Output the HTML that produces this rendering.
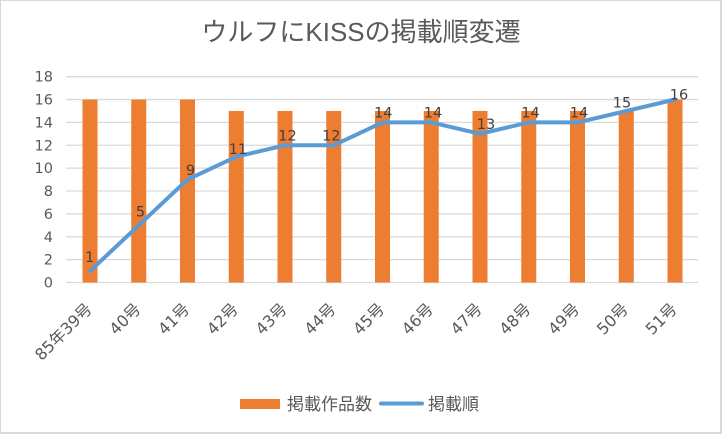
<!DOCTYPE html>
<html>
<head>
<meta charset="utf-8">
<style>
  html, body { margin: 0; padding: 0; background: #ffffff; }
  svg { display: block; }
</style>
</head>
<body>
<svg width="722" height="434" viewBox="0 0 722 434" xmlns="http://www.w3.org/2000/svg">
  <rect x="0" y="0" width="722" height="434" fill="#ffffff"/>
  <!-- border -->
  <line x1="0.5" y1="0" x2="0.5" y2="434" stroke="#d9d9d9" stroke-width="1"/>
  <line x1="0" y1="0.5" x2="722" y2="0.5" stroke="#d9d9d9" stroke-width="1"/>
  <line x1="721" y1="0" x2="721" y2="434" stroke="#d9d9d9" stroke-width="2"/>
  <line x1="0" y1="433" x2="722" y2="433" stroke="#d9d9d9" stroke-width="2"/>

  <!-- title -->
  <text x="361" y="41" text-anchor="middle" font-family="'Liberation Sans','Noto Sans CJK JP',sans-serif" font-size="26" fill="#595959">ウルフにKISSの掲載順変遷</text>

  <!-- gridlines -->
  <g stroke="#d9d9d9" stroke-width="1.3">
    <line x1="66" y1="76.67" x2="698" y2="76.67"/>
    <line x1="66" y1="99.54" x2="698" y2="99.54"/>
    <line x1="66" y1="122.41" x2="698" y2="122.41"/>
    <line x1="66" y1="145.28" x2="698" y2="145.28"/>
    <line x1="66" y1="168.15" x2="698" y2="168.15"/>
    <line x1="66" y1="191.02" x2="698" y2="191.02"/>
    <line x1="66" y1="213.89" x2="698" y2="213.89"/>
    <line x1="66" y1="236.76" x2="698" y2="236.76"/>
    <line x1="66" y1="259.63" x2="698" y2="259.63"/>
    <line x1="66" y1="282.5" x2="698" y2="282.5"/>
  </g>

  <!-- y labels -->
  <g font-family="'DejaVu Sans',sans-serif" font-size="14.5" fill="#595959" text-anchor="end">
    <text x="53" y="81.7">18</text>
    <text x="53" y="104.5">16</text>
    <text x="53" y="127.4">14</text>
    <text x="53" y="150.3">12</text>
    <text x="53" y="173.2">10</text>
    <text x="53" y="196">8</text>
    <text x="53" y="218.9">6</text>
    <text x="53" y="241.8">4</text>
    <text x="53" y="264.6">2</text>
    <text x="53" y="287.5">0</text>
  </g>

  <!-- bars -->
  <g fill="#ed7d31">
    <rect x="82.5" y="99.54" width="15" height="182.96"/>
    <rect x="131.25" y="99.54" width="15" height="182.96"/>
    <rect x="180" y="99.54" width="15" height="182.96"/>
    <rect x="228.75" y="110.98" width="15" height="171.52"/>
    <rect x="277.5" y="110.98" width="15" height="171.52"/>
    <rect x="326.25" y="110.98" width="15" height="171.52"/>
    <rect x="375" y="110.98" width="15" height="171.52"/>
    <rect x="423.75" y="110.98" width="15" height="171.52"/>
    <rect x="472.5" y="110.98" width="15" height="171.52"/>
    <rect x="521.25" y="110.98" width="15" height="171.52"/>
    <rect x="570" y="110.98" width="15" height="171.52"/>
    <rect x="618.75" y="110.98" width="15" height="171.52"/>
    <rect x="667.5" y="99.54" width="15" height="182.96"/>
  </g>

  <!-- line -->
  <polyline fill="none" stroke="#5b9bd5" stroke-width="4" stroke-linejoin="round" stroke-linecap="round"
    points="90,271.1 138.75,225.3 187.5,179.6 236.25,156.7 285,145.3 333.75,145.3 382.5,122.4 431.25,122.4 480,133.8 528.75,122.4 577.5,122.4 626.25,111 675,99.5"/>

  <!-- data labels -->
  <g font-family="'DejaVu Sans',sans-serif" font-size="14.5" fill="#404040" text-anchor="middle">
    <text x="89.7" y="262">1</text>
    <text x="140.5" y="216.7">5</text>
    <text x="190.5" y="175">9</text>
    <text x="238" y="154">11</text>
    <text x="287.5" y="140.7">12</text>
    <text x="331.3" y="140.7">12</text>
    <text x="383.3" y="117.3">14</text>
    <text x="433" y="117.3">14</text>
    <text x="486" y="129">13</text>
    <text x="530.5" y="117.3">14</text>
    <text x="579" y="117.3">14</text>
    <text x="622" y="107.3">15</text>
    <text x="679" y="99.3">16</text>
  </g>

  <!-- x labels -->
  <g font-family="'DejaVu Sans','Noto Sans CJK JP',sans-serif" font-size="16" fill="#595959" text-anchor="end">
    <text transform="translate(93,310) rotate(-45)">85年39号</text>
    <text transform="translate(141.75,310) rotate(-45)">40号</text>
    <text transform="translate(190.5,310) rotate(-45)">41号</text>
    <text transform="translate(239.25,310) rotate(-45)">42号</text>
    <text transform="translate(288,310) rotate(-45)">43号</text>
    <text transform="translate(336.75,310) rotate(-45)">44号</text>
    <text transform="translate(385.5,310) rotate(-45)">45号</text>
    <text transform="translate(434.25,310) rotate(-45)">46号</text>
    <text transform="translate(483,310) rotate(-45)">47号</text>
    <text transform="translate(531.75,310) rotate(-45)">48号</text>
    <text transform="translate(580.5,310) rotate(-45)">49号</text>
    <text transform="translate(629.25,310) rotate(-45)">50号</text>
    <text transform="translate(678,310) rotate(-45)">51号</text>
  </g>

  <!-- legend -->
  <rect x="240" y="399" width="40" height="10" fill="#ed7d31"/>
  <text x="287" y="410" font-family="'Liberation Sans','Noto Sans CJK JP',sans-serif" font-size="17" fill="#595959">掲載作品数</text>
  <line x1="381" y1="403.5" x2="422" y2="403.5" stroke="#5b9bd5" stroke-width="4" stroke-linecap="round"/>
  <text x="428" y="410" font-family="'Liberation Sans','Noto Sans CJK JP',sans-serif" font-size="17" fill="#595959">掲載順</text>
</svg>
</body>
</html>
